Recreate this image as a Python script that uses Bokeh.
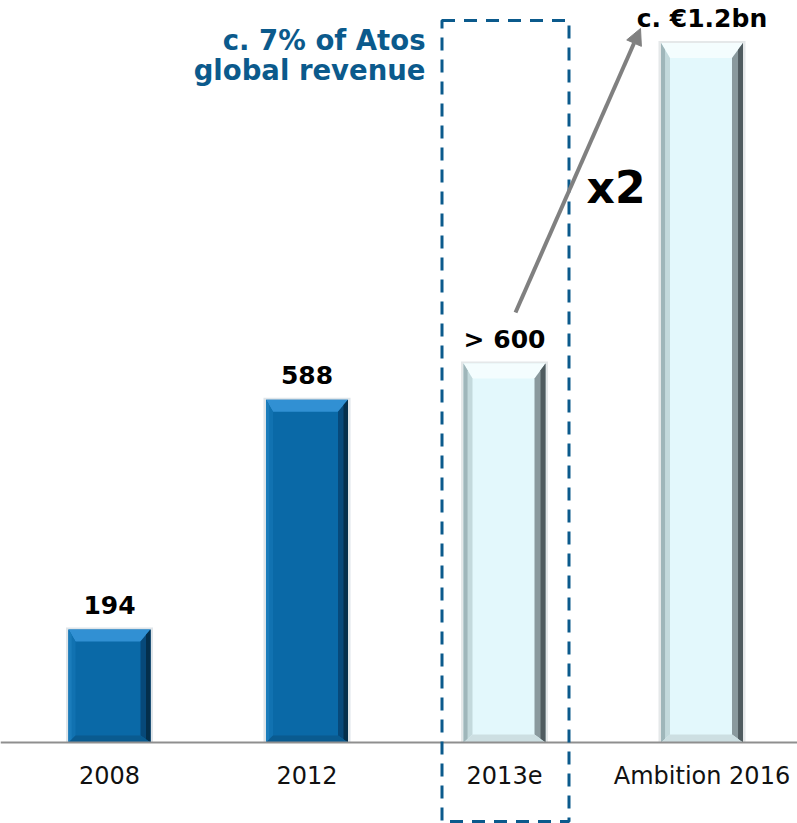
from bokeh.plotting import figure
from bokeh.models import Range1d, FixedTicker, BoxAnnotation, Arrow, NormalHead, Label
from bokeh.core.properties import value
from bokeh.embed import file_html
from bokeh.resources import INLINE

# ---- data ----
categories = ["2008", "2012", "2013e", "Ambition 2016"]
values = [194, 588, 650, 1200]
value_labels = ["194", "588", "> 600", "c. €1.2bn"]
bar_kind = ["actual", "actual", "forecast", "forecast"]
note_lines = ["c. 7% of Atos", "global revenue"]
growth_label = "x2"

# ---- geometry ----
W, H = 797, 823
PX_PER_UNIT = 0.583
BASE_PX = 742
CAT_PX = 197.5
YMAX = BASE_PX / PX_PER_UNIT
YMIN = -(H - BASE_PX) / PX_PER_UNIT
XS = 1.0 / CAT_PX       # data units per px (x)
YS = 1.0 / PX_PER_UNIT  # data units per px (y)
x0 = -109.0 / CAT_PX
BL = 0.38               # baseline correction (em)


def X(px):
    return x0 + px * XS


def Y(py):
    return (BASE_PX - py) / PX_PER_UNIT


p = figure(width=W, height=H, x_range=Range1d(x0, x0 + W * XS), y_range=Range1d(YMIN, YMAX),
           output_backend="svg", toolbar_location=None, min_border=0,
           outline_line_color=None, background_fill_color="white", border_fill_color="white")
p.grid.visible = False
p.yaxis.visible = False
ax = p.xaxis[0]
ax.fixed_location = 0
ax.ticker = FixedTicker(ticks=list(range(len(categories))))
ax.major_label_overrides = {i: c for i, c in enumerate(categories)}
ax.major_tick_line_color = None
ax.minor_tick_line_color = None
ax.axis_line_color = "#8f8f8f"
ax.axis_line_width = 2
ax.major_label_text_font = "DejaVu Sans"
ax.major_label_text_font_size = "24px"
ax.major_label_text_color = "#111111"
ax.major_label_standoff = 13

styles = {
    "actual": dict(main="#0a69a7", top="#3190d3", left="#1172b1", left_o="#1a7cbb",
                   right="#07497a", right_o="#042f4c", bottom="#0a5b90", glow="#c9d3da",
                   tb=12, sl=7, sr=10, bb=7),
    "forecast": dict(main="#e3f8fc", top="#f4fdfe", left="#c3d9dc", left_o="#9fb6ba",
                     right="#8a999d", right_o="#505c60", bottom="#cddfe2", glow="#d3d9da",
                     tb=15, sl=9, sr=11, bb=8),
}

bw = 82 * XS
for i, (v, kind) in enumerate(zip(values, bar_kind)):
    s = styles[kind]
    l, r = i - bw / 2, i + bw / 2
    p.vbar(x=[i], top=[v + 2 * YS], bottom=[0], width=bw + 5 * XS, fill_color=s["glow"],
           fill_alpha=0.6, line_color=None)
    p.vbar(x=[i], top=[v], bottom=[0], width=bw, fill_color=s["main"], line_color=None)
    tb, sl, sr, bb = s["tb"] * YS, s["sl"] * XS, s["sr"] * XS, s["bb"] * YS
    xs = [
        [l, r, r - sr, l + sl],
        [l, l + sl, l + sl, l],
        [l, l + sl * 0.45, l + sl * 0.45, l],
        [r, r - sr, r - sr, r],
        [r, r - sr * 0.45, r - sr * 0.45, r],
        [l, r, r - sr, l + sl],
    ]
    ys = [
        [v, v, v - tb, v - tb],
        [v, v - tb, bb, 0],
        [v, v - tb * 0.45, bb * 0.45, 0],
        [v, v - tb, bb, 0],
        [v, v - tb * 0.45, bb * 0.45, 0],
        [0, 0, bb, bb],
    ]
    cols = [s["top"], s["left"], s["left_o"], s["right"], s["right_o"], s["bottom"]]
    p.patches(xs=xs, ys=ys, fill_color=cols, line_color=None)

# value labels
p.text(x=list(range(len(values))), y=values, text=value_labels, y_offset=-(15 + BL * 25),
       text_align="center", text_baseline="alphabetic", text_font=value("DejaVu Sans"),
       text_font_style="bold", text_font_size="25px", text_color="#000000")

# dashed box around 2013e
p.add_layout(BoxAnnotation(left=X(441.5), right=X(568.5), top=Y(20), bottom=Y(821),
                           fill_color=None, fill_alpha=0, line_color="#0b5a8c", line_alpha=1.0,
                           line_width=3, line_dash="13 9"))

# note text
for txt, py in zip(note_lines, [49.5, 80]):
    p.add_layout(Label(x=X(425), y=Y(py - BL * 27.5), text=txt, text_align="right",
                       text_baseline="alphabetic", text_font="DejaVu Sans",
                       text_font_style="bold", text_font_size="27.5px", text_color="#0b5a8c"))

# growth arrow
p.add_layout(Arrow(x_start=X(515), y_start=Y(312), x_end=X(640), y_end=Y(28),
                   line_color="#808080", line_width=4,
                   end=NormalHead(size=16, fill_color="#808080", line_color="#808080")))
p.add_layout(Label(x=X(586), y=Y(204 - BL * 44), text=growth_label, text_align="left",
                   text_baseline="alphabetic", text_font="DejaVu Sans",
                   text_font_style="bold", text_font_size="44px", text_color="#000000"))

open("out.html", "w").write(file_html(p, INLINE))
